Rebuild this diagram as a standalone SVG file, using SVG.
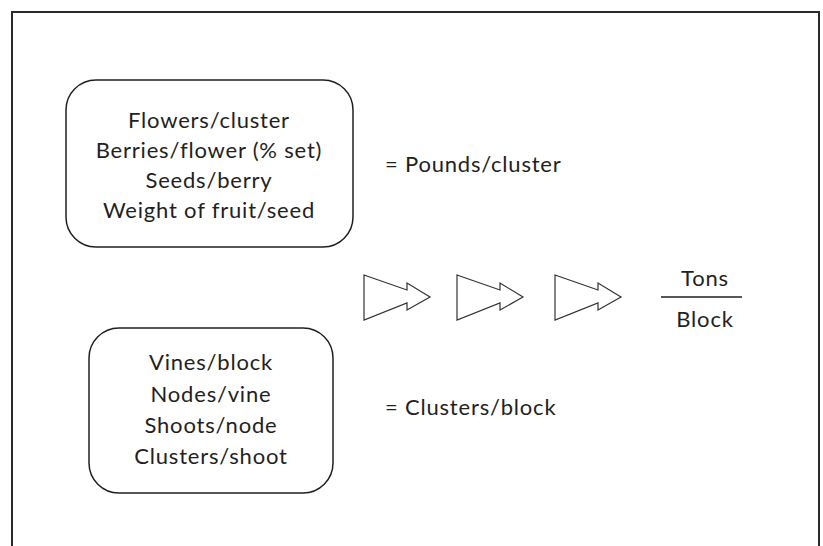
<svg xmlns="http://www.w3.org/2000/svg" width="823" height="546" viewBox="0 0 823 546">
<style>
text{font-family:Lato,"Open Sans","Liberation Sans",sans-serif;font-size:22px;letter-spacing:0.8px;fill:#231f20}
.c{text-anchor:middle}
.box{fill:#fff;stroke:#231f20;stroke-width:1.5}
.arr{fill:#fff;stroke:#333;stroke-width:1.2;stroke-linejoin:miter}
</style>
<rect width="823" height="546" fill="#fff"/>
<path d="M12,546 V12 H819 V546" fill="none" stroke="#2a2a2a" stroke-width="2"/>
<g id="yield-components">
<rect class="box" x="66" y="80" width="287" height="167" rx="30"/>
<text class="c" x="209" y="128">Flowers/cluster</text>
<text class="c" x="209" y="158">Berries/flower (% set)</text>
<text class="c" x="209" y="188">Seeds/berry</text>
<text class="c" x="209" y="218">Weight of fruit/seed</text>
</g>
<g id="pounds-cluster"><text x="385" y="172">= Pounds/cluster</text></g>
<g id="vine-components">
<rect class="box" x="89" y="328" width="244" height="165" rx="30"/>
<text class="c" x="211" y="370">Vines/block</text>
<text class="c" x="211" y="402">Nodes/vine</text>
<text class="c" x="211" y="433">Shoots/node</text>
<text class="c" x="211" y="464">Clusters/shoot</text>
</g>
<g id="clusters-block"><text x="385" y="415">= Clusters/block</text></g>
<g id="connectors">
<path class="arr" d="M364,275 L407,290 L407,283 L430,297 L407,310 L407,303 L364,320 Z"/>
<path class="arr" d="M457,275 L500,290 L500,283 L523,297 L500,310 L500,303 L457,320 Z"/>
<path class="arr" d="M555,275 L598,290 L598,283 L621,297 L598,310 L598,303 L555,320 Z"/>
</g>
<g id="tons-block">
<text class="c" x="705" y="286">Tons</text>
<line x1="661" y1="297" x2="742" y2="297" stroke="#231f20" stroke-width="1.3"/>
<text class="c" x="705" y="327">Block</text>
</g>
</svg>
